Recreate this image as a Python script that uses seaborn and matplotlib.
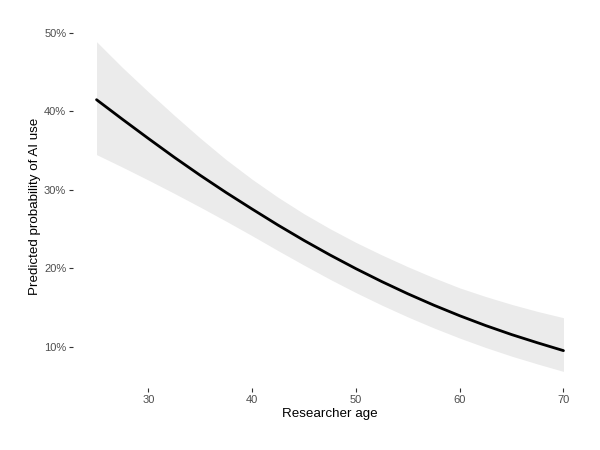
"""
Predicted probability of AI use by researcher age, with confidence ribbon.
"""

import numpy as np
import pandas as pd
import matplotlib
matplotlib.use("Agg")
import matplotlib.pyplot as plt
from matplotlib.ticker import PercentFormatter
import seaborn as sns

# values (every 2.5 years)
ages = [25, 27.5, 30, 32.5, 35, 37.5, 40, 42.5, 45, 47.5,
        50, 52.5, 55, 57.5, 60, 62.5, 65, 67.5, 70]
fit = [0.415, 0.390, 0.3655, 0.3415, 0.3185, 0.2965, 0.2755, 0.255, 0.2355, 0.217,
       0.1995, 0.183, 0.1675, 0.153, 0.1395, 0.127, 0.1155, 0.105, 0.095]
lower = [0.345, 0.329, 0.3125, 0.2955, 0.278, 0.260, 0.2415, 0.2225, 0.204, 0.186,
         0.169, 0.153, 0.138, 0.124, 0.111, 0.099, 0.088, 0.078, 0.0685]
upper = [0.489, 0.456, 0.425, 0.395, 0.366, 0.3385, 0.3135, 0.2905, 0.2695, 0.2505,
         0.233, 0.217, 0.202, 0.188, 0.175, 0.164, 0.154, 0.145, 0.137]

x_ticks = [30, 40, 50, 60, 70]
y_ticks = [0.1, 0.2, 0.3, 0.4, 0.5]


def main():
    df = pd.DataFrame({"age": ages, "fit": fit, "lower": lower, "upper": upper})

    sns.set_theme(style="white")
    plt.rcParams["font.family"] = ["Liberation Sans", "DejaVu Sans"]

    fig = plt.figure(figsize=(6, 4.5), dpi=100)
    ax = fig.add_axes([0.122, 0.138, 0.856, 0.806])

    # ribbon first, then the fitted line on top
    ax.fill_between(df["age"], df["lower"], df["upper"], color="#ebebeb", lw=0)
    sns.lineplot(data=df, x="age", y="fit", ax=ax, color="black", lw=2)

    ax.margins(x=0.05, y=0.05)
    ax.set_xticks(x_ticks)
    ax.set_yticks(y_ticks)
    ax.yaxis.set_major_formatter(PercentFormatter(xmax=1, decimals=0))

    ax.tick_params(axis="both", which="major", length=3, width=0.8,
                   color="#333333", labelcolor="#4d4d4d", labelsize=8,
                   bottom=True, left=True, pad=2)

    ax.set_xlabel("Researcher age", fontsize=9.6, color="black", labelpad=2)
    ax.set_ylabel("Predicted probability of AI use", fontsize=9.6,
                  color="black", labelpad=2)

    sns.despine(ax=ax, left=True, bottom=True)
    ax.grid(False)

    fig.savefig("out.png", dpi=100)


if __name__ == "__main__":
    main()
